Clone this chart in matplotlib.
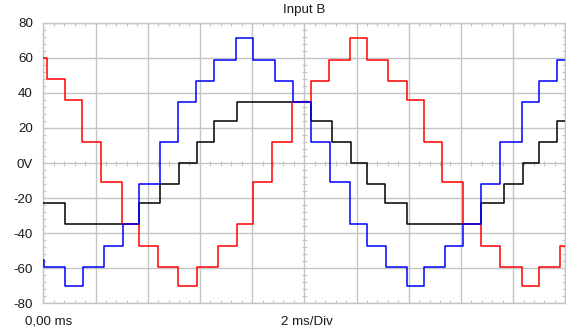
import numpy as np
import matplotlib
matplotlib.use("Agg")
import matplotlib.pyplot as plt

plt.rcParams['font.family'] = ['Liberation Sans', 'DejaVu Sans']

# Step-change instants (ms) and the level held after each change (V)
red_t = [0.153, 0.843, 1.495, 2.212, 3.006, 3.669, 4.409, 5.175, 5.881, 6.709,
         7.414, 8.028, 8.767, 9.546, 10.251, 10.964, 11.758, 12.398, 13.226,
         13.931, 14.595, 15.273, 16.078, 16.768, 17.481, 18.340, 18.976, 19.808]
red_v = [60, 48, 36, 12, -11, -35, -47, -59, -70, -59, -47, -35, -11, 12, 35,
         47, 59, 71, 59, 47, 36, 12, -11, -35, -47, -59, -70, -59, -47]

blue_t = [0.04, 0.832, 1.510, 2.339, 3.044, 3.669, 4.474, 5.175, 5.842, 6.544,
          7.387, 8.051, 8.882, 9.584, 10.251, 10.991, 11.758, 12.398, 13.126,
          13.931, 14.595, 15.400, 16.078, 16.768, 17.508, 18.340, 18.976, 19.682]
blue_v = [-55, -59, -70, -59, -47, -35, -12, 12, 35, 47, 59, 71, 59, 47, 35, 12,
          -11, -35, -47, -59, -70, -59, -47, -35, -12, 12, 35, 47, 59]

black_t = [0.832, 3.669, 4.474, 5.214, 5.881, 6.555, 7.414, 10.251, 11.056,
           11.796, 12.409, 13.099, 13.954, 16.768, 17.635, 18.363, 18.976, 19.682]
black_v = [-23, -35, -23, -12, 0, 12, 24, 35, 24, 12, 0, -12, -23, -35, -23,
           -12, 0, 12, 24]

y_ticks = [80, 60, 40, 20, 0, -20, -40, -60, -80]
y_labels = ["80", "60", "40", "20", "0V", "-20", "-40", "-60", "-80"]

T_END = 20.0
GRID = '#c4c4c4'


def trace(times, levels):
    x = [0.0] + list(times) + [T_END]
    y = list(levels) + [levels[-1]]
    return x, y


W, H = 566, 336
fig = plt.figure(figsize=(W / 100, H / 100), dpi=100)
left, right, top, bottom = 43.3, 565.3, 22.7, 303.4
ax = fig.add_axes([left / W, 1 - bottom / H, (right - left) / W, (bottom - top) / H])

ax.set_xlim(0, T_END)
ax.set_ylim(-80, 80)

ax.set_xticks(np.arange(0, 20.01, 2))
ax.set_xticks(np.arange(0, 20.01, 0.4), minor=True)
ax.set_yticks(y_ticks)
ax.set_yticklabels(y_labels)
ax.set_yticks(np.arange(-80, 80.01, 4), minor=True)

ax.tick_params(which='both', direction='in', top=True, right=True,
               color=GRID, labelbottom=False, labelcolor='#1a1a1a')
ax.tick_params(which='major', length=0, pad=7.5, labelsize=9.6)
ax.tick_params(which='minor', length=2.3, width=0.8)

ax.grid(True, which='major', color=GRID, lw=1.0)
for s in ax.spines.values():
    s.set_color(GRID)
    s.set_linewidth(1.0)

# scale marks along the centre cross
cx_minor = [v for v in np.arange(0.4, 20, 0.4) if abs(v / 2 - round(v / 2)) > 1e-6]
cy_minor = [v for v in np.arange(-76, 80, 4) if v % 20 != 0]
ax.plot(cx_minor, [0] * len(cx_minor), ls='none', marker='|', ms=3.6,
        mew=0.8, color=GRID, zorder=1.5)
ax.plot([10] * len(cy_minor), cy_minor, ls='none', marker='_', ms=3.6,
        mew=0.8, color=GRID, zorder=1.5)

for (t, v), col in [((black_t, black_v), '#000000'),
                    ((red_t, red_v), '#ff0000'),
                    ((blue_t, blue_v), '#0000ff')]:
    x, y = trace(t, v)
    ax.plot(x, y, drawstyle='steps-post', color=col, lw=1.1, zorder=3)

fig.text(304 / W, 1 - 9.5 / H, "Input B", ha='center', va='center',
         fontsize=9.6, color='#1a1a1a')
fig.text(25 / W, 1 - 322 / H, "0,00 ms", ha='left', va='center',
         fontsize=9.6, color='#1a1a1a')
fig.text(307 / W, 1 - 322 / H, "2 ms/Div", ha='center', va='center',
         fontsize=9.6, color='#1a1a1a')

fig.savefig("out.png", dpi=100)
